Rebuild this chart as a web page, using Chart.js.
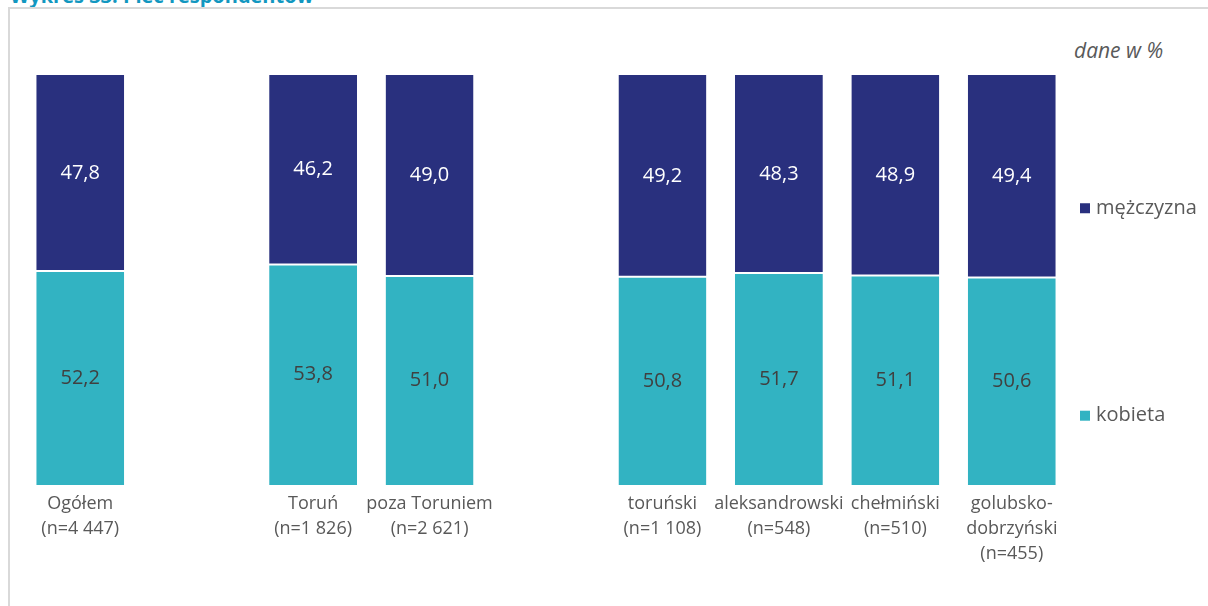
<!DOCTYPE html>
<html>
<head>
<meta charset="utf-8">
<script src="https://cdn.jsdelivr.net/npm/chart.js@4"></script>
<style>
html,body{margin:0;padding:0;background:#fff;width:1208px;height:606px;overflow:hidden;position:relative;font-family:"Open Sans",sans-serif;}
#frame{position:absolute;left:8px;top:7px;width:1300px;height:700px;border-left:2px solid #d9d9d9;border-top:2px solid #d9d9d9;}
#title{position:absolute;left:10px;top:-18px;font-size:20px;font-weight:bold;color:#1297c0;white-space:nowrap;}
#unit{position:absolute;left:1074px;top:36px;font-size:21px;font-style:italic;color:#595959;}
#wrap{position:absolute;left:0;top:0;width:1208px;height:606px;}
</style>
</head>
<body>
<div id="title">Wykres 33. Płeć respondentów</div>
<div id="frame"></div>
<div id="unit">dane w %</div>
<div id="wrap"><canvas id="c" width="1208" height="606"></canvas></div>
<script>
const categories = [
  ["Ogółem","(n=4 447)"],
  [""],
  ["Toruń","(n=1 826)"],
  ["poza Toruniem","(n=2 621)"],
  [""],
  ["toruński","(n=1 108)"],
  ["aleksandrowski","(n=548)"],
  ["chełmiński","(n=510)"],
  ["golubsko-","dobrzyński","(n=455)"]
];
const kobieta    = [52.2, null, 53.8, 51.0, null, 50.8, 51.7, 51.1, 50.6];
const mezczyzna  = [47.8, null, 46.2, 49.0, null, 49.2, 48.3, 48.9, 49.4];
const seriesNames = ["kobieta", "mężczyzna"];
const colors = {kobieta:"#32b3c2", mezczyzna:"#29307e"};

const fmt = v => v.toFixed(1).replace(".", ",");

const labelPlugin = {
  id: "segLabels",
  afterDatasetsDraw(chart) {
    const ctx = chart.ctx;
    ctx.save();
    ctx.font = '20px "Open Sans", sans-serif';
    ctx.textAlign = "center";
    ctx.textBaseline = "middle";
    chart.data.datasets.forEach((ds, di) => {
      const meta = chart.getDatasetMeta(di);
      meta.data.forEach((bar, i) => {
        const v = ds.data[i];
        if (v == null) return;
        const y = (bar.y + bar.base) / 2;
        ctx.fillStyle = di === 0 ? "#404040" : "#ffffff";
        ctx.fillText(fmt(v), bar.x, y);
      });
    });
    ctx.restore();
  }
};

const legendPlugin = {
  id: "customLegend",
  afterDraw(chart) {
    const ctx = chart.ctx;
    const y = chart.scales.y;
    const items = [
      {name: seriesNames[1], color: colors.mezczyzna, pos: 67.5},
      {name: seriesNames[0], color: colors.kobieta, pos: 16.9}
    ];
    ctx.save();
    ctx.font = '20px "Open Sans", sans-serif';
    ctx.textBaseline = "middle";
    ctx.textAlign = "left";
    items.forEach(it => {
      const py = y.getPixelForValue(it.pos);
      ctx.fillStyle = it.color;
      ctx.fillRect(1080, py - 5, 10, 10);
      ctx.fillStyle = "#595959";
      ctx.fillText(it.name, 1096, py);
    });
    ctx.restore();
  }
};

new Chart(document.getElementById("c"), {
  type: "bar",
  data: {
    labels: categories,
    datasets: [
      {label: seriesNames[0], data: kobieta, backgroundColor: colors.kobieta,
       borderColor: "#ffffff", borderWidth: {top: 1, bottom: 0, left: 0, right: 0}, borderSkipped: false},
      {label: seriesNames[1], data: mezczyzna, backgroundColor: colors.mezczyzna,
       borderColor: "#ffffff", borderWidth: {top: 0, bottom: 1, left: 0, right: 0}, borderSkipped: false}
    ]
  },
  options: {
    responsive: false,
    animation: false,
    devicePixelRatio: 1,
    layout: {padding: {left: 22, right: 138, top: 75, bottom: 42}},
    plugins: {legend: {display: false}, tooltip: {enabled: false}},
    datasets: {bar: {categoryPercentage: 1.0, barPercentage: 0.755}},
    scales: {
      x: {
        stacked: true,
        grid: {display: false},
        border: {display: false},
        ticks: {
          color: "#595959",
          font: {family: '"Open Sans", sans-serif', size: 18, lineHeight: "25px"},
          padding: -2,
          maxRotation: 0,
          autoSkip: false
        }
      },
      y: {
        stacked: true,
        display: false,
        min: 0, max: 100
      }
    }
  },
  plugins: [labelPlugin, legendPlugin]
});
</script>
</body>
</html>
